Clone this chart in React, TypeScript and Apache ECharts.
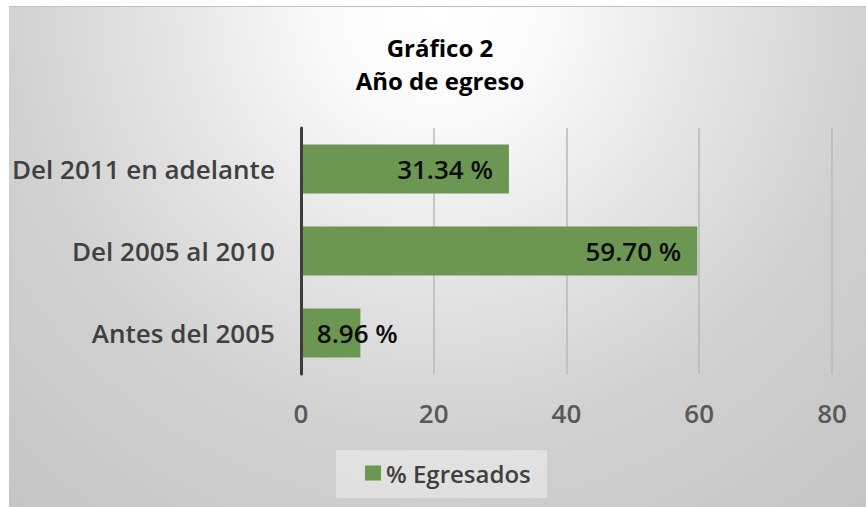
import { useEffect, useRef } from 'react';
import * as echarts from 'echarts';

const categories = ['Antes del 2005', 'Del 2005 al 2010', 'Del 2011 en adelante'];
const egresados = [8.96, 59.7, 31.34];
const xTicks = [0, 20, 40, 60, 80];
const seriesName = '% Egresados';
const titleLines = ['Gráfico 2', 'Año de egreso'];

const FONT = '"Open Sans", "Noto Sans", sans-serif';

export default function App() {
  const ref = useRef<HTMLDivElement>(null);
  useEffect(() => {
    if (!ref.current) return;
    const chart = echarts.init(ref.current, null, { renderer: 'svg' });
    chart.setOption({
      animation: false,
      backgroundColor: 'transparent',
      title: {
        text: titleLines.join('\n'),
        left: 431,
        top: 24,
        padding: 0,
        textAlign: 'center',
        textStyle: {
          fontFamily: FONT,
          fontSize: 24,
          fontWeight: 'bold',
          color: '#000000',
          lineHeight: 33,
        },
      },
      grid: { left: 291, right: 34, top: 121, bottom: 133, containLabel: false },
      xAxis: {
        type: 'value',
        min: xTicks[0],
        max: xTicks[xTicks.length - 1],
        interval: xTicks[1] - xTicks[0],
        axisLine: { show: false },
        axisTick: { show: false },
        splitLine: { show: true, lineStyle: { color: '#b8b8b8', width: 1.5 } },
        axisLabel: {
          margin: 26,
          fontFamily: FONT,
          fontSize: 26,
          fontWeight: 600,
          color: '#595959',
        },
      },
      yAxis: {
        type: 'category',
        data: categories,
        z: 3,
        axisLine: { show: true, lineStyle: { color: '#3d3d3d', width: 3 } },
        axisTick: { show: false },
        splitLine: { show: false },
        axisLabel: {
          margin: 26,
          fontFamily: FONT,
          fontSize: 26,
          fontWeight: 600,
          color: '#404040',
        },
      },
      legend: {
        data: [seriesName],
        left: 356,
        top: 454,
        padding: 0,
        icon: 'rect',
        itemWidth: 16,
        itemHeight: 15,
        itemGap: 10,
        textStyle: {
          fontFamily: FONT,
          fontSize: 24,
          fontWeight: 600,
          color: '#404040',
        },
      },
      graphic: [
        {
          type: 'rect',
          left: 327,
          top: 443,
          z: 0,
          shape: { width: 211, height: 48 },
          style: { fill: 'rgba(255,255,255,0.38)' },
        },
      ],
      series: [
        {
          type: 'bar',
          name: seriesName,
          data: egresados.map((v) =>
            v < 15 ? { value: v, label: { position: 'insideLeft' } } : v
          ),
          barCategoryGap: '40%',
          itemStyle: { color: '#6b9752' },
          label: {
            show: true,
            position: 'insideRight',
            distance: 16,
            formatter: (p: any) => Number(p.value).toFixed(2) + ' %',
            fontFamily: FONT,
            fontSize: 26,
            fontWeight: 600,
            color: '#0d0d0d',
          },
        },
      ],
    });
    return () => chart.dispose();
  }, []);

  return (
    <div
      style={{
        position: 'absolute',
        left: 9,
        top: 6,
        width: 857,
        height: 501,
        boxSizing: 'border-box',
        borderTop: '1px solid #c2c2c2',
        background:
          'radial-gradient(circle at 50% 0%, #ffffff 0px, #f9f9f9 120px, #e6e6e6 260px, #d0d0d0 440px, #c6c6c6 650px)',
      }}
    >
      <div ref={ref} style={{ width: 857, height: 500 }} />
    </div>
  );
}
